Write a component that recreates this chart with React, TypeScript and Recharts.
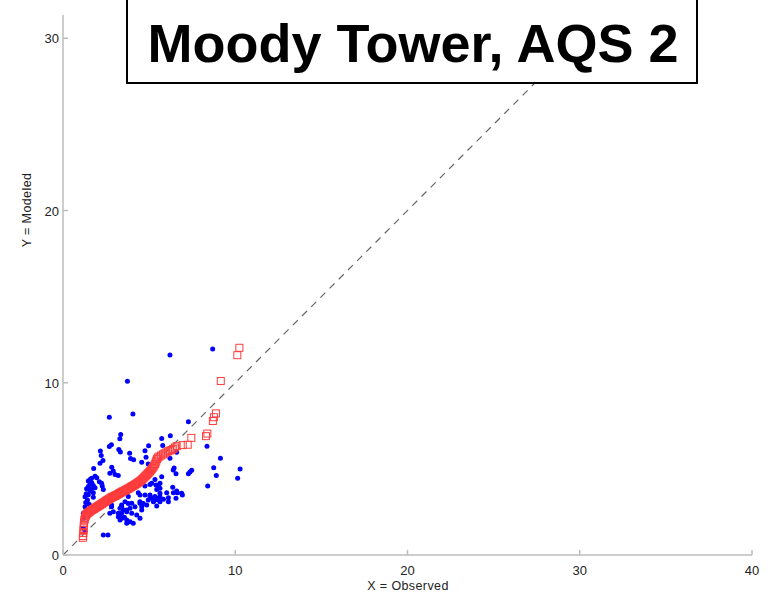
import { ScatterChart, Scatter, XAxis, YAxis, ReferenceLine } from 'recharts'

// blue dots: paired observed / modeled values
const observed = [
  8.69, 6.21, 3.74, 2.69, 4.06, 7.28, 3.35, 3.3, 2.81, 2.69, 5.73, 6.23, 8.36, 5.79, 4.97,
  2.17, 3.24, 3.33, 3.87, 4.76, 6.6, 2.22, 2.32, 3.92, 4.1, 4.82, 9.14, 6.21, 2.15, 4.95,
  4.57, 2.83, 1.78, 8.75, 10.28, 6.45, 2.92, 3.02, 3.21, 2.72, 1.86, 1.96, 1.66, 5.09, 6.4,
  6.56, 7.47, 7.28, 7.37, 8.9, 10.14, 5.73, 1.57, 1.47, 2.11, 2.24, 1.67, 1.57, 5.34, 5.63,
  5.15, 5.4, 1.76, 1.47, 2.28, 1.86, 5.54, 4.76, 5.05, 8.4, 6.37, 5.63, 1.37, 1.66, 2.34,
  1.57, 1.76, 5.44, 6.64, 6.6, 6.02, 4.37, 6.41, 1.47, 1.28, 1.76, 4.47, 4.76, 5.05, 6.93,
  6.89, 3.79, 5.05, 5.34, 5.63, 5.63, 5.15, 5.44, 6.56, 6.12, 5.83, 5.54, 4.95, 2.72, 2.72,
  5.34, 4.47, 5.25, 5.63, 6.12, 3.6, 3.99, 4.47, 4.66, 3.79, 4.86, 3.4, 2.82, 5.44, 4.18,
  3.41, 4.57, 2.82, 1.28, 3.31, 3.89, 3.5, 3.7, 4.57, 2.92, 3.7, 1.28, 2.72, 3.4, 3.99,
  3.21, 1.18, 3.31, 4.28, 1.18, 3.21, 3.56, 3.41, 4.47, 1.18, 3.31, 3.7, 3.89, 3.7, 4.08,
  1.18, 1.28, 2.34, 2.61, 1.32, 1.42, 1.52, 1.35,
]
const modeled = [
  11.96, 11.61, 10.08, 8.0, 8.18, 7.74, 7.0, 6.75, 6.4, 6.3, 6.77, 6.92, 6.31, 6.35, 6.34,
  6.04, 6.12, 5.98, 5.9, 6.05, 5.96, 5.78, 5.49, 5.6, 5.53, 5.68, 5.61, 5.61, 5.32, 5.29,
  5.39, 5.1, 5.02, 5.06, 4.99, 5.05, 4.87, 4.68, 4.62, 4.75, 4.57, 4.48, 4.45, 4.8, 4.93,
  4.72, 4.92, 4.72, 4.82, 4.62, 4.45, 4.55, 4.38, 4.3, 4.25, 4.16, 4.2, 4.12, 4.38, 4.16,
  4.16, 4.06, 4.03, 3.98, 4.0, 3.9, 4.0, 4.0, 4.09, 4.0, 3.93, 3.87, 3.84, 3.84, 3.8,
  3.71, 3.61, 3.8, 3.62, 3.71, 3.61, 3.61, 3.61, 3.5, 3.38, 3.35, 3.48, 3.48, 3.48, 3.48,
  3.58, 3.39, 3.39, 3.39, 3.38, 3.58, 3.29, 3.29, 3.29, 3.33, 3.23, 3.19, 3.19, 3.19, 3.04,
  3.19, 3.09, 3.09, 3.09, 3.09, 3.09, 3.0, 3.0, 2.99, 2.99, 2.9, 2.9, 2.9, 2.84, 2.8,
  2.8, 2.8, 2.8, 2.8, 2.71, 2.71, 2.61, 2.61, 2.61, 2.51, 2.51, 2.51, 2.42, 2.42, 2.42,
  2.42, 2.42, 2.32, 2.32, 2.22, 2.22, 2.19, 2.13, 2.13, 2.13, 2.03, 2.03, 1.93, 1.84, 1.84,
  1.55, 1.36, 1.16, 1.16, 3.05, 3.2, 2.95, 3.55,
]

// red squares: sorted observed vs sorted modeled (quantile pairs)
const qqObserved = [
  1.15, 1.17, 1.18, 1.19, 1.2, 1.21, 1.22, 1.24, 1.26, 1.28, 1.3, 1.33, 1.36, 1.4, 1.45,
  1.5, 1.55, 1.6, 1.65, 1.7, 1.75, 1.8, 1.85, 1.9, 1.95, 2.0, 2.05, 2.1, 2.15, 2.2,
  2.25, 2.3, 2.35, 2.4, 2.45, 2.5, 2.55, 2.6, 2.65, 2.7, 2.75, 2.8, 2.85, 2.9, 2.95,
  3.0, 3.05, 3.1, 3.15, 3.2, 3.25, 3.3, 3.35, 3.4, 3.45, 3.5, 3.55, 3.6, 3.65, 3.7,
  3.75, 3.8, 3.85, 3.9, 3.95, 4.0, 4.05, 4.1, 4.15, 4.2, 4.25, 4.3, 4.35, 4.4, 4.45,
  4.5, 4.55, 4.6, 4.65, 4.7, 4.75, 4.8, 4.85, 4.9, 4.95, 5.0, 5.05, 5.1, 5.15, 5.2,
  5.25, 5.3, 5.35, 5.38, 5.42, 5.46, 5.52, 5.6, 5.7, 5.8, 5.9, 6.0, 6.1, 6.2, 6.3,
  6.4, 6.5, 6.6, 6.95, 7.24, 7.45, 8.3, 8.38, 8.7, 8.76, 8.88, 9.16, 10.12, 10.24,
]
const qqModeled = [
  1.0, 1.1, 1.28, 1.45, 1.6, 1.75, 1.88, 2.0, 2.1, 2.18, 2.25, 2.3, 2.36, 2.4, 2.45,
  2.48, 2.52, 2.56, 2.6, 2.62, 2.66, 2.68, 2.72, 2.75, 2.78, 2.8, 2.84, 2.88, 2.9, 2.94,
  2.97, 3.0, 3.04, 3.07, 3.1, 3.14, 3.17, 3.2, 3.23, 3.26, 3.3, 3.33, 3.35, 3.38, 3.4,
  3.43, 3.46, 3.48, 3.5, 3.54, 3.56, 3.6, 3.62, 3.65, 3.68, 3.7, 3.72, 3.75, 3.78, 3.8,
  3.83, 3.86, 3.88, 3.92, 3.95, 3.98, 4.0, 4.04, 4.07, 4.1, 4.13, 4.16, 4.2, 4.23, 4.27,
  4.3, 4.35, 4.4, 4.44, 4.5, 4.55, 4.6, 4.64, 4.7, 4.75, 4.8, 4.86, 4.92, 4.98, 5.05,
  5.12, 5.2, 5.28, 5.38, 5.48, 5.58, 5.66, 5.72, 5.78, 5.84, 5.9, 5.96, 6.02, 6.06, 6.1,
  6.16, 6.24, 6.32, 6.38, 6.4, 6.8, 6.9, 7.05, 7.78, 8.0, 8.22, 10.1, 11.6, 12.03,
]

const xTicks = [0, 10, 20, 30, 40]
const yTicks = [0, 10, 20, 30]
const yMax = 31.35

const dots = observed.map((x, i) => ({ x, y: modeled[i] }))
const quantiles = qqObserved.map((x, i) => ({ x, y: qqModeled[i] }))

const FONT = '"Liberation Sans", Arial, Helvetica, sans-serif'
const SPINE = '#bdbdbd'

function LeftTick({ x, y, payload }: any) {
  return (
    <g>
      <line x1={x} x2={x + 5} y1={y} y2={y} stroke={SPINE} strokeWidth={1.5} />
      <text x={x - 4} y={y} dy={5} textAnchor="end" fontSize={13} fill="#222" fontFamily={FONT}>
        {payload.value}
      </text>
    </g>
  )
}

function RightTick({ x, y }: any) {
  return <line x1={x} x2={x - 5} y1={y} y2={y} stroke={SPINE} strokeWidth={1.5} />
}

function BottomTick({ x, y, payload }: any) {
  return (
    <g>
      <line x1={x} x2={x} y1={y} y2={y - 5} stroke={SPINE} strokeWidth={1.5} />
      <text x={x} y={y + 20} textAnchor="middle" fontSize={13} fill="#222" fontFamily={FONT}>
        {payload.value}
      </text>
    </g>
  )
}

const Dot = (p: any) => <circle cx={p.cx} cy={p.cy} r={2.5} fill="#0000ff" />
const Square = (p: any) => (
  <rect x={p.cx - 3.5} y={p.cy - 3.5} width={7} height={7} fill="none" stroke="#ff3c3c" strokeWidth={1} />
)

export default function App() {
  return (
    <div style={{ position: 'absolute', left: 0, top: 0, width: 776, height: 595, background: '#fff' }}>
      <ScatterChart width={776} height={595} margin={{ top: 15, right: 24, bottom: 0, left: 0 }}>
        <XAxis
          type="number"
          dataKey="x"
          domain={[0, 40]}
          ticks={xTicks}
          height={40}
          stroke={SPINE}
          strokeWidth={1.5}
          tickSize={0}
          tickMargin={0}
          tickLine={false}
          tick={BottomTick}
        />
        <YAxis
          type="number"
          dataKey="y"
          domain={[0, yMax]}
          allowDataOverflow
          ticks={yTicks}
          width={63}
          stroke={SPINE}
          strokeWidth={1.5}
          tickSize={0}
          tickMargin={0}
          tickLine={false}
          tick={LeftTick}
        />
        <YAxis
          yAxisId="right"
          orientation="right"
          type="number"
          domain={[0, yMax]}
          allowDataOverflow
          ticks={yTicks}
          width={0}
          stroke={SPINE}
          strokeWidth={1.5}
          tickSize={0}
          tickMargin={0}
          tickLine={false}
          tick={RightTick}
        />
        <ReferenceLine
          segment={[{ x: 0, y: 0 }, { x: yMax, y: yMax }]}
          stroke="#666"
          strokeWidth={1.2}
          strokeDasharray="7 6"
        />
        <Scatter data={dots} shape={Dot} isAnimationActive={false} />
        <Scatter data={quantiles} shape={Square} isAnimationActive={false} />
      </ScatterChart>
      <svg
        width={776}
        height={595}
        style={{ position: 'absolute', left: 0, top: 0, pointerEvents: 'none' }}
      >
        <rect x={127} y={-2} width={570} height={85} fill="#fff" stroke="#000" strokeWidth={2} />
        <text x={413} y={62} textAnchor="middle" fontSize={54} fontWeight="bold" fontFamily={FONT} fill="#000">
          Moody Tower, AQS 2
        </text>
        <text x={408} y={590} textAnchor="middle" fontSize={12.5} fontFamily={FONT} fill="#222" letterSpacing={0.4}>
          X = Observed
        </text>
        <text
          transform="translate(31,210) rotate(-90)"
          textAnchor="middle"
          fontSize={12.5}
          fontFamily={FONT}
          fill="#222"
          letterSpacing={0.4}
        >
          Y = Modeled
        </text>
      </svg>
    </div>
  )
}
